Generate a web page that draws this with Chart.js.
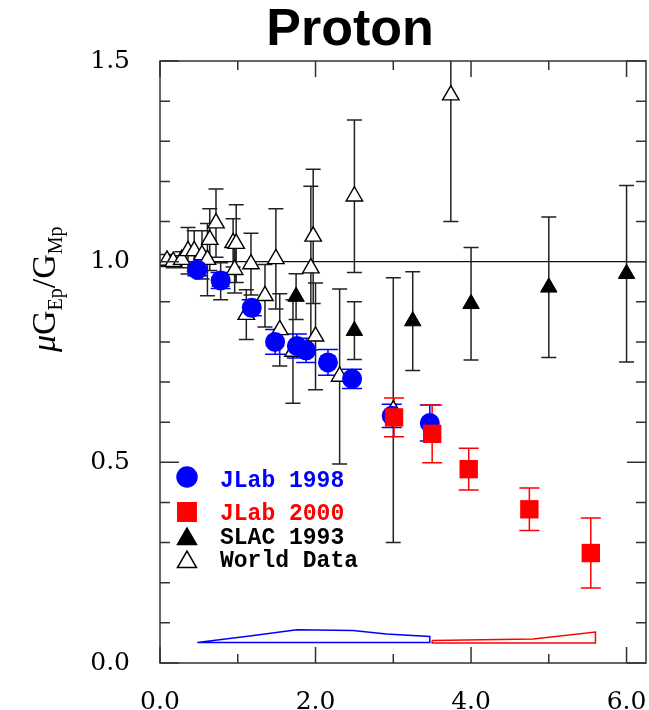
<!DOCTYPE html>
<html>
<head>
<meta charset="utf-8">
<script src="https://cdn.jsdelivr.net/npm/chart.js@4.4.0/dist/chart.umd.min.js"></script>
<style>
  html, body { margin: 0; padding: 0; background: #fff; }
</style>
</head>
<body>
<canvas id="chart" width="649" height="710"></canvas>
<script>
const jlab98Q2  = [0.48, 0.78, 1.18, 1.48, 1.76, 1.88, 2.16, 2.47, 2.98, 3.47];
const jlab98R   = [0.980, 0.953, 0.885, 0.800, 0.790, 0.779, 0.749, 0.708, 0.616, 0.598];
const jlab98Err = [0.015, 0.020, 0.020, 0.031, 0.030, 0.030, 0.032, 0.024, 0.029, 0.045];

const jlab00Q2  = [3.01, 3.50, 3.97, 4.75, 5.54];
const jlab00R   = [0.612, 0.571, 0.483, 0.383, 0.274];
const jlab00Err = [0.048, 0.072, 0.052, 0.053, 0.087];

const slacQ2  = [1.75, 2.50, 3.25, 4.00, 5.00, 6.00];
const slacR   = [0.913, 0.828, 0.852, 0.895, 0.936, 0.970];
const slacErr = [0.057, 0.072, 0.123, 0.140, 0.175, 0.220];

const worldQ2  = [0.09, 0.17, 0.28, 0.36, 0.44, 0.54, 0.61, 0.64, 0.72, 0.78, 0.94, 0.98, 0.96,
                  1.11, 1.17, 1.35, 1.49, 1.54, 1.71, 1.94, 1.97, 2.00, 2.31, 2.50, 3.00, 3.74];
const worldR   = [1.003, 1.000, 1.005, 1.027, 1.027, 1.017, 1.005, 1.055, 1.096, 0.951, 1.047, 1.045, 0.980,
                  0.868, 0.994, 0.915, 1.007, 0.830, 0.776, 0.984, 1.063, 0.814, 0.714, 1.163, 0.630, 1.415];
const worldErr = [0.015, 0.015, 0.020, 0.058, 0.050, 0.060, 0.090, 0.077, 0.085, 0.046, 0.060, 0.097, 0.058,
                  0.062, 0.077, 0.078, 0.125, 0.090, 0.129, 0.204, 0.167, 0.133, 0.218, 0.190, 0.330, 0.315];

// systematische Fehlerbänder (geschlossene Polygone)
const band98Q2 = [0.48, 1.18, 1.76, 2.48, 2.91, 3.47, 3.47, 0.48];
const band98R  = [0.051, 0.068, 0.083, 0.081, 0.072, 0.066, 0.051, 0.051];
const band00Q2 = [3.50, 4.80, 5.60, 5.60, 3.50, 3.50];
const band00R  = [0.056, 0.060, 0.077, 0.050, 0.050, 0.056];

const unityRatio = 1.0;
const xTickLabels = [0, 2, 4, 6];
const xTickMinor  = [1, 3, 5];
const yTickLabels = [0, 0.5, 1.0, 1.5];
const yTickMinor  = [0.1, 0.2, 0.3, 0.4, 0.6, 0.7, 0.8, 0.9, 1.1, 1.2, 1.3, 1.4];

const legendItems = [
  { text: 'JLab 1998', color: '#0000ff' },
  { text: 'JLab 2000', color: '#ff0000' },
  { text: 'SLAC 1993', color: '#000000' },
  { text: 'World Data', color: '#000000' },
];

const pts = (xs, ys) => xs.map((x, i) => ({ x, y: ys[i] }));
const achsenFont = { family: "'DejaVu Serif', serif", size: 25 };

// Fehlerbalken + Linie bei 1.0, unter den Markern
const fehlerbalken = {
  id: 'fehlerbalken',
  beforeDatasetsDraw(chart) {
    const { ctx, chartArea: a, scales: { x, y } } = chart;
    ctx.save();
    ctx.beginPath();
    ctx.rect(a.left, a.top, a.right - a.left, a.bottom - a.top);
    ctx.clip();
    const y1 = y.getPixelForValue(unityRatio);
    ctx.strokeStyle = '#111';
    ctx.lineWidth = 1.2;
    ctx.beginPath(); ctx.moveTo(a.left, y1); ctx.lineTo(a.right, y1); ctx.stroke();
    const sets = chart.data.datasets.filter((d) => d.errs).sort((p, q) => q.order - p.order);
    for (const ds of sets) {
      ctx.strokeStyle = ds.errColor;
      ctx.lineWidth = 1.5;
      ctx.beginPath();
      ds.data.forEach((p, i) => {
        const px = x.getPixelForValue(p.x);
        const top = y.getPixelForValue(p.y + ds.errs[i]);
        const bot = y.getPixelForValue(p.y - ds.errs[i]);
        const c = ds.capHalf;
        ctx.moveTo(px, top); ctx.lineTo(px, bot);
        ctx.moveTo(px - c, top); ctx.lineTo(px + c, top);
        ctx.moveTo(px - c, bot); ctx.lineTo(px + c, bot);
      });
      ctx.stroke();
    }
    ctx.restore();
  },
};

// Rahmen mit nach innen zeigenden Ticks
const rahmen = {
  id: 'rahmen',
  afterDatasetsDraw(chart) {
    const { ctx, chartArea: a, scales: { x, y } } = chart;
    ctx.save();
    ctx.strokeStyle = '#333';
    ctx.lineWidth = 1.5;
    ctx.strokeRect(a.left, a.top, a.right - a.left, a.bottom - a.top);
    ctx.beginPath();
    const xt = (v, len) => {
      const px = x.getPixelForValue(v);
      ctx.moveTo(px, a.bottom); ctx.lineTo(px, a.bottom - len);
      ctx.moveTo(px, a.top); ctx.lineTo(px, a.top + len);
    };
    const yt = (v, len) => {
      const py = y.getPixelForValue(v);
      ctx.moveTo(a.left, py); ctx.lineTo(a.left + len, py);
      ctx.moveTo(a.right, py); ctx.lineTo(a.right - len, py);
    };
    xTickLabels.forEach((v) => xt(v, 16));
    xTickMinor.forEach((v) => xt(v, 9));
    yTickLabels.forEach((v) => yt(v, 19));
    yTickMinor.forEach((v) => yt(v, 10));
    ctx.stroke();
    ctx.restore();
  },
};

// Titel, y-Achsenbeschriftung mit Indizes, Legende im Plot
const beschriftung = {
  id: 'beschriftung',
  afterDraw(chart) {
    const { ctx } = chart;
    ctx.save();
    ctx.fillStyle = '#000';
    ctx.font = "bold 52px 'Liberation Sans', Arial, sans-serif";
    ctx.textAlign = 'center';
    ctx.textBaseline = 'middle';
    ctx.fillText('Proton', 350, 31);

    // mu G_Ep / G_Mp, gedreht
    ctx.save();
    ctx.translate(55, 352);
    ctx.rotate(-Math.PI / 2);
    ctx.textAlign = 'left';
    ctx.textBaseline = 'alphabetic';
    const gross = "34px 'Liberation Serif', serif";
    const klein = "20px 'Liberation Serif', serif";
    const teile = [
      { t: '\u03bc', f: "italic " + gross, dy: 0 },
      { t: 'G', f: gross, dy: 0 },
      { t: 'Ep', f: klein, dy: 7 },
      { t: '/', f: gross, dy: 0 },
      { t: 'G', f: gross, dy: 0 },
      { t: 'Mp', f: klein, dy: 7 },
    ];
    let cx = 0;
    for (const s of teile) {
      ctx.font = s.f;
      ctx.fillText(s.t, cx, s.dy);
      cx += ctx.measureText(s.t).width;
    }
    ctx.restore();

    // Legende
    const mx = 187, tx = 220;
    const zeilen = [
      { y: 477, base: 487, style: 'circle', r: 10, fill: '#0000ff', stroke: '#0000ff' },
      { y: 512, base: 520, style: 'rect', r: 13, fill: '#ff0000', stroke: '#ff0000' },
      { y: 539, base: 544, style: 'triangle', r: 11, fill: '#000', stroke: '#000' },
      { y: 562, base: 567, style: 'triangle', r: 11, fill: '#fff', stroke: '#000' },
    ];
    ctx.font = "bold 23px 'Liberation Mono', monospace";
    ctx.textAlign = 'left';
    ctx.textBaseline = 'alphabetic';
    zeilen.forEach((z, i) => {
      ctx.fillStyle = z.fill;
      ctx.strokeStyle = z.stroke;
      ctx.lineWidth = 1.5;
      Chart.helpers.drawPoint(ctx, { pointStyle: z.style, radius: z.r, rotation: 0, borderWidth: 1.5 }, mx, z.y);
      ctx.fillStyle = legendItems[i].color;
      ctx.fillText(legendItems[i].text, tx, z.base);
    });
    ctx.restore();
  },
};

new Chart(document.getElementById('chart'), {
  type: 'scatter',
  data: {
    datasets: [
      {
        label: 'JLab 2000', data: pts(jlab00Q2, jlab00R), errs: jlab00Err, errColor: '#ff0000', capHalf: 10,
        pointStyle: 'rect', pointRadius: 13, backgroundColor: '#ff0000', borderColor: '#ff0000', borderWidth: 0, order: 1,
      },
      {
        label: 'JLab 1998', data: pts(jlab98Q2, jlab98R), errs: jlab98Err, errColor: '#0000ff', capHalf: 10,
        pointStyle: 'circle', pointRadius: 10, backgroundColor: '#0000ff', borderColor: '#0000ff', borderWidth: 0, order: 2,
      },
      {
        label: 'SLAC 1993', data: pts(slacQ2, slacR), errs: slacErr, errColor: '#222', capHalf: 7.5,
        pointStyle: 'triangle', pointRadius: 9.5, backgroundColor: '#000', borderColor: '#000', borderWidth: 1, order: 3,
      },
      {
        label: 'World Data', data: pts(worldQ2, worldR), errs: worldErr, errColor: '#222', capHalf: 7.5,
        pointStyle: 'triangle', pointRadius: 9.5, backgroundColor: '#fff', borderColor: '#000', borderWidth: 1.4, order: 4,
      },
      {
        label: 'Sys 1998', data: pts(band98Q2, band98R), showLine: true, pointRadius: 0,
        borderColor: '#0000ff', borderWidth: 1.5, tension: 0, fill: false, order: 5,
      },
      {
        label: 'Sys 2000', data: pts(band00Q2, band00R), showLine: true, pointRadius: 0,
        borderColor: '#ff0000', borderWidth: 1.5, tension: 0, fill: false, order: 5,
      },
    ],
  },
  options: {
    responsive: false,
    animation: false,
    layout: { autoPadding: false, padding: { top: 61, right: 3, left: 0, bottom: 0 } },
    plugins: { legend: { display: false }, tooltip: { enabled: false }, title: { display: false } },
    scales: {
      x: {
        type: 'linear', min: 0, max: 6.25,
        afterBuildTicks: (s) => { s.ticks = xTickLabels.map((v) => ({ value: v })); },
        afterFit: (s) => { s.height = 47; s.paddingLeft = 0; s.paddingRight = 0; },
        ticks: { callback: (v) => Number(v).toFixed(1), font: achsenFont, color: '#000', padding: 24, maxRotation: 0, autoSkip: false },
        grid: { display: false, drawTicks: false },
        border: { display: false },
      },
      y: {
        type: 'linear', min: 0, max: 1.5,
        afterBuildTicks: (s) => { s.ticks = yTickLabels.map((v) => ({ value: v })); },
        afterFit: (s) => { s.width = 160; s.paddingTop = 0; s.paddingBottom = 0; },
        ticks: { callback: (v) => Number(v).toFixed(1), font: achsenFont, color: '#000', padding: 30, autoSkip: false },
        grid: { display: false, drawTicks: false },
        border: { display: false },
      },
    },
  },
  plugins: [fehlerbalken, rahmen, beschriftung],
});
</script>
</body>
</html>
